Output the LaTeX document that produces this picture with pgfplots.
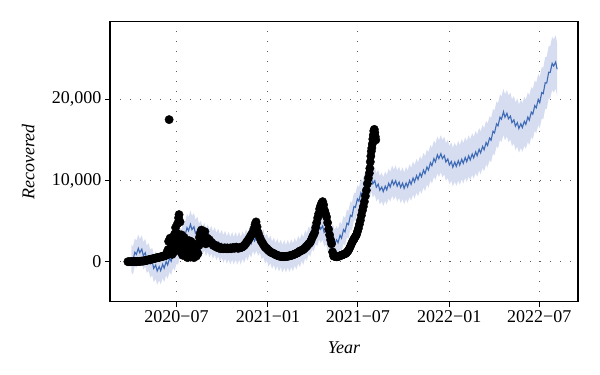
\documentclass[border=0pt]{standalone}
\usepackage{fontspec}
\setmainfont{Liberation Serif}
\usepackage{pgfplots}
\usepackage{pgfplotstable}
\pgfplotsset{compat=1.18}
\usepgfplotslibrary{fillbetween}
\definecolor{bandcol}{RGB}{214,221,240}
\definecolor{linecol}{RGB}{62,106,182}
\definecolor{gridcol}{RGB}{90,90,90}
\pgfplotstableread{
d y w
-91 400 1700
-88 130 1700
-84 1170 1700
-81 900 1700
-77 1650 1700
-74 1100 1700
-70 1550 1700
-67 750 1700
-63 1100 1700
-60 300 1700
-56 580 1700
-53 -260 1700
-49 20 1700
-46 -820 1700
-42 -420 1700
-39 -1150 1700
-35 -600 1700
-32 -1100 1700
-28 -320 1700
-25 -800 1700
-21 20 1700
-18 -400 1700
-14 450 1700
-11 50 1700
-7 950 1700
-4 600 1700
0 1500 1700
3 1300 1700
7 2450 1700
10 2250 1700
14 3400 1700
17 3200 1700
21 4200 1700
24 3800 1700
28 4600 1700
31 3950 1700
35 4300 1700
38 3500 1700
42 3850 1700
45 3000 1700
49 3350 1700
52 2600 1700
56 3100 1700
59 2400 1700
63 2900 1700
66 2220 1700
70 2720 1700
73 2050 1700
77 2550 1700
80 1870 1700
84 2380 1700
87 1700 1700
91 2230 1700
94 1570 1700
98 2100 1700
101 1450 1700
105 1980 1700
108 1350 1700
112 1950 1700
115 1350 1700
119 1950 1700
122 1350 1700
126 1950 1700
129 1350 1700
133 2050 1700
136 1550 1700
140 2300 1700
143 1830 1700
147 2650 1700
150 2200 1700
154 3000 1700
157 2550 1700
161 3100 1700
164 2400 1700
168 2800 1700
171 1980 1700
175 2280 1700
178 1450 1700
182 1800 1700
185 1080 1700
189 1520 1700
192 800 1700
196 1280 1700
199 610 1700
203 1140 1700
206 490 1700
210 1030 1700
213 380 1700
217 950 1700
220 370 1700
224 1000 1700
227 420 1700
231 1060 1700
234 520 1700
238 1220 1700
241 720 1700
245 1500 1700
248 1020 1700
252 1770 1700
255 1300 1700
259 2180 1700
262 1780 1700
266 2660 1700
269 2300 1700
273 3250 1700
276 2930 1700
280 3900 1700
283 3550 1700
287 4450 1700
290 4000 1700
294 4400 1700
297 3600 1700
301 3850 1700
304 3000 1700
308 3300 1700
311 2520 1700
315 2900 1700
318 2200 1700
322 2700 1700
325 2340 1700
329 3260 1700
332 2900 1700
336 3940 1700
339 3670 1700
343 4740 1700
346 4560 1700
350 5720 1700
353 5560 1700
357 6810 1700
360 6700 1700
364 7730 1700
367 7460 1700
371 8500 1700
374 8180 1700
378 9150 1700
381 8820 1700
385 9760 1700
388 9400 1700
392 10320 1700
395 9590 1700
399 9980 1710
402 9170 1720
406 9550 1740
409 8800 1750
413 9200 1770
416 8630 1780
420 9300 1800
423 8850 1810
427 9650 1830
430 9200 1840
434 10000 1860
437 9480 1870
441 9980 1890
444 9300 1900
448 9800 1920
451 9150 1930
455 9680 1950
458 9030 1960
462 9690 1980
465 9220 1990
469 10000 2010
472 9530 2030
476 10300 2040
479 9830 2060
483 10600 2070
486 10130 2090
490 10900 2100
493 10460 2120
497 11280 2130
500 10840 2150
504 11670 2160
507 11290 2180
511 12200 2190
514 11830 2210
518 12700 2230
521 12300 2240
525 13170 2260
528 12700 2270
532 13300 2290
535 12700 2300
539 13060 2320
542 12280 2330
546 12660 2350
549 11910 2360
553 12330 2380
556 11640 2390
560 12270 2410
563 11740 2420
567 12430 2440
570 11900 2450
574 12620 2470
577 12110 2480
581 12830 2500
584 12320 2510
588 13040 2530
591 12530 2540
595 13270 2560
598 12790 2570
602 13530 2590
605 13050 2600
609 13850 2620
612 13400 2630
616 14200 2650
619 13780 2660
623 14680 2680
626 14320 2690
630 15220 2710
633 14960 2720
637 16070 2740
640 15860 2750
644 16970 2770
647 16730 2780
651 17800 2800
654 17550 2810
658 18470 2830
661 17790 2850
665 18280 2860
668 17600 2880
672 17930 2890
675 17130 2910
679 17470 2920
682 16690 2940
686 17130 2950
689 16400 2970
693 16990 2980
696 16520 3000
700 17300 3010
703 16920 3030
707 17810 3050
710 17430 3060
714 18430 3080
717 18170 3090
721 19220 3110
724 18950 3120
728 19980 3140
731 19600 3150
735 20830 3170
738 20700 3180
742 22040 3200
745 22000 3210
749 23340 3230
752 23300 3240
756 24430 3260
759 24100 3270
763 24600 3290
766 23700 3300
}\fcst
\pgfplotstableread{
d v
-98 0
-96 0
-94 0
-92 0
-90 10
-88 0
-86 20
-84 10
-82 30
-80 20
-78 40
-76 30
-74 50
-72 60
-70 80
-68 70
-66 100
-64 120
-62 150
-60 180
-58 200
-56 240
-54 260
-52 300
-50 320
-48 350
-46 380
-44 400
-42 450
-40 480
-38 500
-36 530
-34 560
-32 600
-30 620
-28 650
-26 700
-24 720
-22 780
-20 820
-19 1200
-18 900
-17 1500
-16 2500
-15 17500
-14 1000
-13 2900
-12 1600
-11 1300
-10 2200
-9 900
-8 3000
-7 1800
-6 2600
-5 1200
-4 3400
-3 2100
-2 4200
-1 2800
0 1500
1 3500
2 4700
3 2400
4 5400
5 5800
6 3000
7 4900
8 1800
9 1200
10 3300
11 2600
12 800
13 2200
14 1600
15 3000
16 1000
17 2400
18 700
19 1900
20 2400
21 1200
22 500
23 1800
24 1100
25 2600
26 700
27 2000
28 1000
29 2500
30 600
31 1500
32 2200
33 900
34 1700
35 500
36 1300
37 2000
38 800
39 1600
40 700
41 1200
42 1900
43 1000
44 2300
45 2000
46 3000
47 2400
48 3500
49 2800
50 3900
51 3200
52 2600
53 3600
54 3000
55 3400
56 2500
57 3700
58 2900
59 2200
60 2700
62 2900
64 2500
66 2700
68 2300
70 2400
72 2200
74 2000
76 2100
78 1900
80 1800
82 1900
84 1700
86 1800
88 1600
90 1700
92 1650
94 1600
96 1700
98 1650
100 1600
102 1700
104 1600
106 1650
108 1700
110 1600
112 1700
114 1750
116 1650
118 1700
120 1800
122 1700
124 1650
126 1700
128 1750
130 1750
132 1800
134 1900
136 2000
138 2150
140 2300
142 2500
144 2650
146 2850
148 3050
150 3250
152 3450
154 3700
156 4100
158 4600
160 4900
162 4300
164 3600
166 3200
168 2900
170 2600
172 2400
174 2200
176 2000
178 1800
180 1700
182 1600
184 1450
186 1350
188 1250
190 1150
192 1100
194 1050
196 1000
198 900
200 850
202 800
204 750
206 700
208 680
210 650
212 640
214 620
216 620
218 630
220 650
222 660
224 680
226 700
228 730
230 760
232 800
234 840
236 880
238 940
240 1000
242 1050
244 1100
246 1200
248 1300
250 1350
252 1400
254 1450
256 1550
258 1650
260 1800
262 1900
264 2050
266 2200
268 2300
270 2500
272 2800
274 3100
276 3300
278 3600
280 4200
282 4800
284 5400
286 5900
288 6500
290 6900
292 7200
294 7400
296 7000
298 6300
300 5900
302 5500
304 4800
306 4000
308 3300
310 2700
312 2200
314 1200
316 700
318 650
320 650
322 600
324 620
326 650
328 700
330 750
332 800
334 850
336 900
338 950
340 1000
342 1100
344 1250
346 1400
348 1650
350 1900
352 2200
354 2450
356 2700
358 2900
360 3100
362 3300
364 3700
366 4100
368 4600
370 5100
372 5700
374 6300
376 6800
378 7400
380 8100
382 8800
384 9600
386 10300
388 10900
389 11500
390 12300
391 13000
392 13600
393 14000
394 14500
395 15100
396 15600
397 16100
398 16300
399 15900
400 15400
401 15000
}\obs
\begin{document}
\begin{tikzpicture}
\begin{axis}[
  width=468pt, height=280pt, scale only axis,
  xmin=-134, xmax=808, ymin=-4926, ymax=29560,
  scaled y ticks=false,
  xtick={0,184,365,549,730},
  xticklabels={2020−07,2021−01,2021−07,2022−01,2022−07},
  ytick={0,10000,20000},
  yticklabels={0,{10,000},{20,000}},
  tick align=outside, xtick pos=bottom, ytick pos=left,
  major tick length=5pt,
  every tick/.style={black, line width=1pt},
  axis line style={line width=1.2pt},
  grid=major,
  major grid style={gridcol, line width=1pt, dash pattern=on 1pt off 9pt},
  tick label style={font=\fontsize{18}{21.6}\selectfont},
  xlabel={Year}, ylabel={Recovered},
  every axis x label/.style={at={(axis description cs:0.5,-0.1654)},anchor=center,font=\fontsize{18}{21.6}\selectfont\itshape},
  every axis y label/.style={at={(axis description cs:-0.1746,0.5)},rotate=90,anchor=center,font=\fontsize{18}{21.6}\selectfont\itshape},
  clip=false,
]
\addplot[name path=up, draw=none, forget plot] table[x=d, y expr=\thisrow{y}+\thisrow{w}] {\fcst};
\addplot[name path=lo, draw=none, forget plot] table[x=d, y expr=\thisrow{y}-\thisrow{w}] {\fcst};
\addplot[fill=bandcol, draw=none] fill between[of=up and lo];
\addplot[only marks, mark=*, mark size=4.2pt, black] table[x=d, y=v] {\obs};
\addplot[linecol, line width=1.1pt] table[x=d, y=y] {\fcst};
\end{axis}
\pgfresetboundingbox
\path (-110pt,-73.3pt) rectangle (490pt,301.7pt);
\end{tikzpicture}
\end{document}
